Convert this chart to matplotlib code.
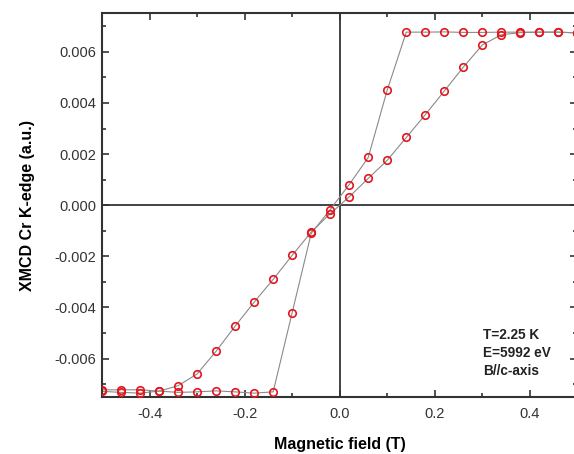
import matplotlib
matplotlib.use("Agg")
import matplotlib.pyplot as plt
from matplotlib.ticker import MultipleLocator

plt.rcParams['font.family'] = ['Liberation Sans', 'DejaVu Sans']

# Descending branch (field swept from +0.5 T to -0.5 T)
field_down = [0.50, 0.46, 0.42, 0.38, 0.34, 0.30, 0.26, 0.22, 0.18, 0.14, 0.10, 0.06, 0.02,
              -0.02, -0.06, -0.10, -0.14, -0.18, -0.22, -0.26, -0.30, -0.34, -0.38, -0.42, -0.46, -0.50]
xmcd_down = [0.00674, 0.00677, 0.00677, 0.00675, 0.00667, 0.00627, 0.00540, 0.00447, 0.00354,
             0.00265, 0.00176, 0.00105, 0.00033, -0.00033, -0.00105, -0.00196, -0.00290,
             -0.00379, -0.00473, -0.00571, -0.00660, -0.00706, -0.00727, -0.00722, -0.00722, -0.00722]

# Ascending branch (field swept from -0.5 T to +0.5 T)
field_up = [-0.50, -0.46, -0.42, -0.38, -0.34, -0.30, -0.26, -0.22, -0.18, -0.14, -0.10, -0.06, -0.02,
            0.02, 0.06, 0.10, 0.14, 0.18, 0.22, 0.26, 0.30, 0.34, 0.38, 0.42, 0.46, 0.50]
xmcd_up = [-0.00728, -0.00732, -0.00735, -0.00727, -0.00732, -0.00730, -0.00726, -0.00730,
           -0.00735, -0.00730, -0.00420, -0.00110, -0.00017, 0.00081, 0.00187, 0.00451,
           0.00677, 0.00677, 0.00678, 0.00676, 0.00676, 0.00677, 0.00677, 0.00677, 0.00677, 0.00674]

x_ticks = [-0.4, -0.2, 0.0, 0.2, 0.4]
x_tick_labels = ['-0.4', '-0.2', '0.0', '0.2', '0.4']
y_ticks = [-0.006, -0.004, -0.002, 0.000, 0.002, 0.004, 0.006]
y_tick_labels = ['-0.006', '-0.004', '-0.002', '0.000', '0.002', '0.004', '0.006']

fig = plt.figure(figsize=(5.74, 4.54), dpi=100)
ax = fig.add_axes([0.1777, 0.1256, 0.8283, 0.8447])

ax.axhline(0, color='#222222', lw=1.2, zorder=1)
ax.axvline(0, color='#222222', lw=1.2, zorder=1)

for xs, ys in [(field_down, xmcd_down), (field_up, xmcd_up)]:
    ax.plot(xs, ys, '-', color='#8a8a8a', lw=0.8, zorder=2)
    ax.plot(xs, ys, 'o', ms=5.4, mfc='none', mec='#e3161e', mew=1.2, zorder=3)

ax.set_xlim(-0.5, 0.5)
ax.set_ylim(-0.0075, 0.0075)
ax.set_xticks(x_ticks)
ax.set_xticklabels(x_tick_labels)
ax.set_yticks(y_ticks)
ax.set_yticklabels(y_tick_labels)
ax.xaxis.set_minor_locator(MultipleLocator(0.1))
ax.yaxis.set_minor_locator(MultipleLocator(0.001))
ax.tick_params(which='both', direction='in', top=True, right=True, colors='#333333',
               labelcolor='#333333', labelsize=10.5, width=1.2)
ax.tick_params(axis='y', which='major', length=5, pad=4)
ax.tick_params(axis='x', which='major', length=5, pad=7)
ax.tick_params(which='minor', length=3)
for s in ax.spines.values():
    s.set_linewidth(1.5)
    s.set_color('#333333')

ax.set_xlabel('Magnetic field (T)', fontsize=11.5, fontweight='bold', labelpad=12)
ax.set_ylabel('XMCD Cr K-edge (a.u.)', fontsize=11.5, fontweight='bold', labelpad=14)

ax.text(0.302, -0.00482, 'T=2.25 K\nE=5992 eV\nB//c-axis', fontsize=9.8, fontweight='bold',
        va='top', ha='left', linespacing=1.32, color='#222222')

fig.savefig('out.png', dpi=100)
